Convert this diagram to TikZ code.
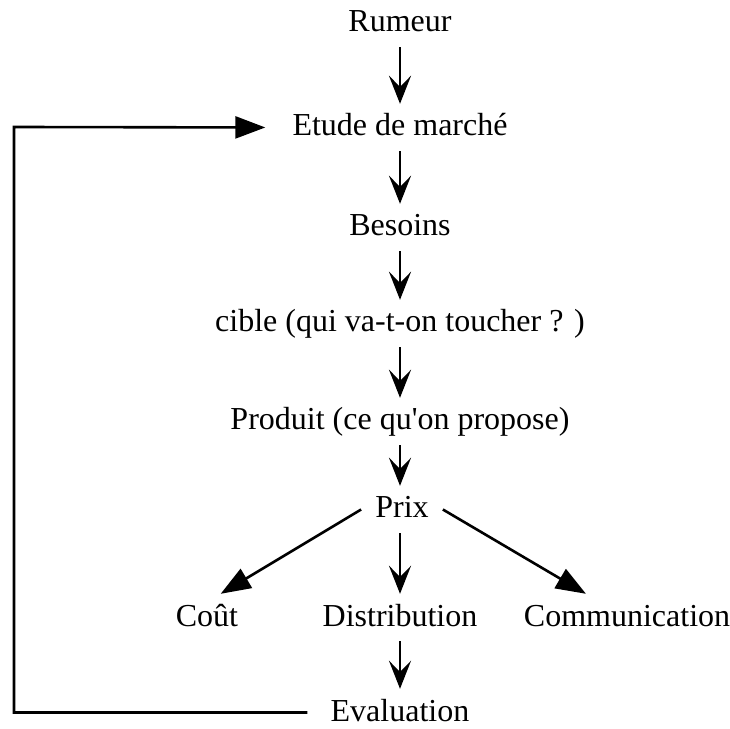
\documentclass[tikz,border=0pt]{standalone}
\usepackage{fontspec}
\setmainfont{Liberation Serif}[Ligatures=TeXOff]
\usetikzlibrary{arrows.meta}
\tikzset{
  stage/.style={anchor=base,font=\fontsize{32}{38}\selectfont,
    text height=22pt,text depth=5pt,inner ysep=10pt,inner xsep=14pt},
  down/.style={-{Stealth[length=28pt,width=22pt,inset=11pt]},line width=2.6pt},
  branch/.style={-{Triangle[length=30pt,width=22pt]},line width=2.6pt}
}

\begin{document}
\begin{tikzpicture}[x=1pt,y=1pt]

\useasboundingbox (0,0) rectangle (730,728);

% main chain
\node[stage] (rumeur)  at (400,696) {Rumeur};
\node[stage] (etude)   at (400,592) {Etude de marché};
\node[stage] (besoins) at (400,492) {Besoins};
\node[stage] (cible)   at (400,396) {cible (qui va-t-on toucher ? )};
\node[stage] (produit) at (400,298) {Produit (ce qu'on propose)};
\node[stage] (prix)    at (402,210) {Prix};

% mix
\node[stage] (cout)    at (207,102) {Coût};
\node[stage] (distrib) at (400,102) {Distribution};
\node[stage] (comm)    at (627,102) {Communication};
\node[stage] (eval)    at (400,7)   {Evaluation};

\draw[down] (rumeur.south) -- (etude.north);
\draw[down] (etude.south) -- (besoins.north);
\draw[down] (besoins.south) -- (cible.north);
\draw[down] (cible.south) -- (produit.north);
\draw[down] (produit.south) -- (produit.south |- prix.north);
\draw[down] (distrib.north |- prix.south) -- (distrib.north);
\draw[down] (distrib.south) -- (eval.north);

\draw[branch] (prix.west) -- (cout.60);
\draw[branch] (prix.east) -- (comm.150);

% feedback loop
\coordinate (looptl) at (14,601);
\draw[branch,shorten <=9pt,shorten >=13pt]
  (eval.west) -| (looptl) -- (etude.west);

\end{tikzpicture}
\end{document}
